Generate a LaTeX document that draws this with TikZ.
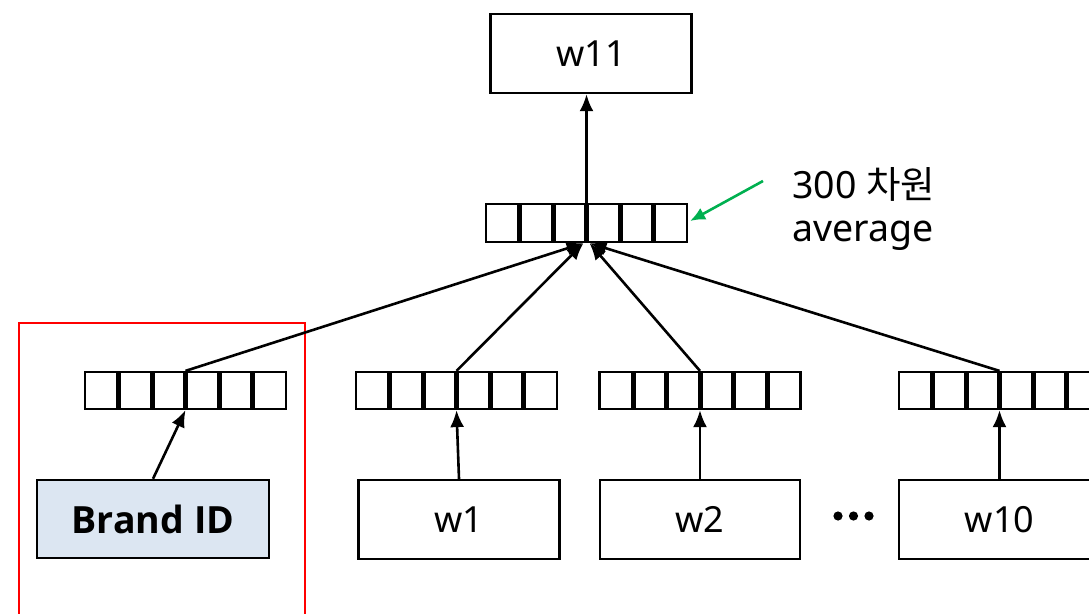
\documentclass[tikz,border=0pt]{standalone}
\usepackage{fontspec}
\setmainfont{Noto Sans}
\newfontfamily\krfont{Noto Sans CJK KR}
\newfontfamily\boldfont{Open Sans}
\usetikzlibrary{arrows.meta,calc}
\definecolor{idfill}{HTML}{DCE6F2}
\definecolor{notegreen}{HTML}{00B050}
\tikzset{
  wordbox/.style={draw=black,line width=2.4pt,minimum width=201pt,minimum height=79pt,
    inner sep=0pt,font=\fontsize{36}{42}\selectfont},
  vecbox/.style={draw=black,line width=2.2pt,minimum width=201pt,minimum height=38pt,inner sep=0pt,
    path picture={
      \foreach \k in {1,...,5}
        \draw[line width=5pt]
          ($(path picture bounding box.south west)!\k/6!(path picture bounding box.south east)$)
          -- ($(path picture bounding box.north west)!\k/6!(path picture bounding box.north east)$);
    }},
  link/.style={line width=2.6pt,-{Latex[length=17pt,width=14pt]}},
}
\begin{document}
\begin{tikzpicture}[x=1pt,y=-1pt]
\path[use as bounding box,clip] (0,0) rectangle (1089,613);

% output word
\node[wordbox] (w11) at (591,53.5) {w11};

% averaged vector
\node[vecbox] (vtop) at (586.5,223) {};
\coordinate (inL) at ($(vtop.south)+(-3,0)$);
\coordinate (inR) at ($(vtop.south)+(3,0)$);

% note on the averaged vector
\coordinate (gstart) at (763,181);
\draw[notegreen,line width=2.6pt,-{Latex[length=15pt,width=13pt]}] (gstart) -- ($(vtop.east)+(2,-2)$);
\node[anchor=north west,align=left,inner sep=0pt,font=\fontsize{37.5}{43}\selectfont] (note) at (792,167)
  {300 {\krfont 차원}\\average};

% input embeddings
\node[vecbox,minimum height=37pt] (va) at (185.5,390.5) {};
\node[vecbox,minimum height=37pt] (vb) at (456.5,390.5) {};
\node[vecbox,minimum height=37pt] (vc) at (700,390.5) {};
\node[vecbox,minimum height=37pt] (vd) at (999.5,390.5) {};

% inputs
\node[wordbox,fill=idfill,minimum width=232pt,minimum height=78pt,font=\fontsize{37.5}{42}\selectfont\boldfont\bfseries] (brand) at (153,519) {Brand ID};
\node[wordbox] (w1) at (459,519.5) {w1};
\node[wordbox,minimum width=200pt] (w2) at (700,519.5) {w2};
\node[wordbox] (w10) at (999.5,519.5) {w10};

% ellipsis between inputs
\node[inner sep=0pt,minimum size=1pt] (dots) at (853.5,516) {};
\foreach \dx in {-15.5,0,15.5}
  \fill ($(dots)+(\dx,0)$) circle (4.6);

% highlight around the brand branch
\draw[red,line width=2.4pt] (19,323) rectangle (305,640);

% connections
\draw[link] (vtop.north) -- (vtop.north |- w11.south);
\draw[link] (brand.north) -- (va.south);
\draw[link] (w1.north) -- (vb.south);
\draw[link] (w2.north) -- (vc.south);
\draw[link] (w10.north) -- (vd.south);
\draw[link] (va.north) -- (inL);
\draw[link] (vb.north) -- (inL);
\draw[link] (vc.north) -- (inR);
\draw[link] (vd.north) -- (inR);
\end{tikzpicture}
\end{document}
